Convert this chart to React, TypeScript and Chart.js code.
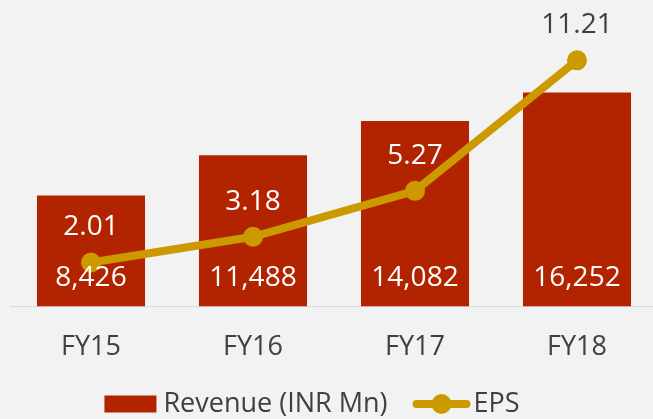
import React, { useEffect, useRef } from "react";
import { Chart, registerables } from "chart.js";

Chart.register(...registerables);

const categories = ["FY15", "FY16", "FY17", "FY18"];
const revenue = [8426, 11488, 14082, 16252];
const eps = [2.01, 3.18, 5.27, 11.21];
const seriesNames = ["Revenue (INR Mn)", "EPS"];

const BAR_COLOR = "#b22300";
const LINE_COLOR = "#cc9900";
const TEXT_DARK = "#404040";
const BG = "#f2f2f2";
const FONT = "'Open Sans', 'Noto Sans', sans-serif";
const W = 680;
const H = 419;

const labelPlugin = {
  id: "valueLabels",
  afterDatasetsDraw(chart: any) {
    const ctx = chart.ctx;
    const barMeta = chart.getDatasetMeta(0);
    const lineMeta = chart.getDatasetMeta(1);
    ctx.save();
    ctx.font = `28px ${FONT}`;
    ctx.textAlign = "center";
    ctx.textBaseline = "middle";
    barMeta.data.forEach((el: any, i: number) => {
      ctx.fillStyle = "#ffffff";
      ctx.fillText(revenue[i].toLocaleString("en-US"), el.x, el.base - 29);
    });
    lineMeta.data.forEach((el: any, i: number) => {
      const ty = el.y - 35;
      const bar = barMeta.data[i];
      ctx.fillStyle = ty > bar.y ? "#ffffff" : TEXT_DARK;
      ctx.fillText(eps[i].toFixed(2), el.x, ty);
    });
    ctx.restore();
  },
};

const legendPlugin = {
  id: "customLegend",
  afterDraw(chart: any) {
    const ctx = chart.ctx;
    ctx.save();
    ctx.font = `27px ${FONT}`;
    ctx.textBaseline = "middle";
    ctx.textAlign = "left";
    const w1 = ctx.measureText(seriesNames[0]).width;
    const w2 = ctx.measureText(seriesNames[1]).width;
    const boxW = 52, boxH = 17, gap1 = 7, gapItems = 25, lineW = 58, gap2 = 3;
    const total = boxW + gap1 + w1 + gapItems + lineW + gap2 + w2;
    const cx = 312;
    const cy = chart.height - 15;
    let x = cx - total / 2;
    ctx.fillStyle = BAR_COLOR;
    ctx.fillRect(x, cy - boxH / 2, boxW, boxH);
    x += boxW + gap1;
    ctx.fillStyle = TEXT_DARK;
    ctx.fillText(seriesNames[0], x, cy);
    x += w1 + gapItems;
    ctx.strokeStyle = LINE_COLOR;
    ctx.lineWidth = 8;
    ctx.lineCap = "round";
    ctx.beginPath();
    ctx.moveTo(x + 4, cy);
    ctx.lineTo(x + lineW - 4, cy);
    ctx.stroke();
    ctx.fillStyle = LINE_COLOR;
    ctx.beginPath();
    ctx.arc(x + lineW / 2, cy, 10, 0, Math.PI * 2);
    ctx.fill();
    x += lineW + gap2;
    ctx.fillStyle = TEXT_DARK;
    ctx.fillText(seriesNames[1], x, cy);
    ctx.restore();
  },
};

export default function App() {
  const ref = useRef<HTMLCanvasElement>(null);
  useEffect(() => {
    document.documentElement.style.background = BG;
    document.body.style.background = BG;
    document.body.style.overflow = "hidden";
    const chart = new Chart(ref.current as HTMLCanvasElement, {
      type: "bar",
      data: {
        labels: categories,
        datasets: [
          {
            type: "bar",
            label: seriesNames[0],
            data: revenue,
            backgroundColor: BAR_COLOR,
            borderWidth: 0,
            categoryPercentage: 1,
            barPercentage: 0.667,
            yAxisID: "y",
            order: 2,
          },
          {
            type: "line",
            label: seriesNames[1],
            data: eps,
            borderColor: LINE_COLOR,
            backgroundColor: LINE_COLOR,
            borderWidth: 8,
            pointRadius: 10,
            pointHoverRadius: 10,
            pointBorderWidth: 0,
            tension: 0,
            yAxisID: "y1",
            order: 1,
          },
        ],
      },
      options: {
        responsive: false,
        animation: false,
        layout: { padding: { left: 10, right: W - 658, top: 43, bottom: 30 } },
        plugins: {
          legend: { display: false },
          tooltip: { enabled: false },
        },
        scales: {
          x: {
            grid: { display: false, drawTicks: false },
            border: { display: true, color: "#d9d9d9", width: 1 },
            ticks: {
              color: TEXT_DARK,
              font: { family: FONT, size: 27 },
              padding: 25,
            },
          },
          y: { display: false, min: 0, max: 20000 },
          y1: { display: false, min: 0, max: 12, position: "right" },
        },
      },
      plugins: [labelPlugin, legendPlugin],
    });
    return () => chart.destroy();
  }, []);
  return (
    <div style={{ position: "fixed", left: 0, top: 0, width: W, height: H, background: BG }}>
      <canvas ref={ref} width={W} height={H} style={{ width: W, height: H, display: "block" }} />
    </div>
  );
}
